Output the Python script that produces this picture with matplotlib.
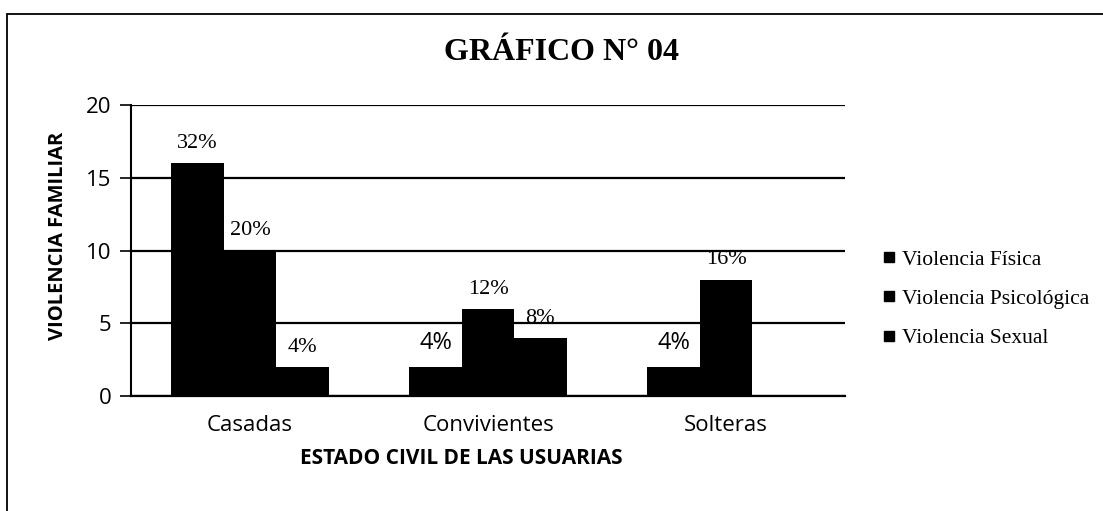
import numpy as np
import matplotlib
matplotlib.use('Agg')
import matplotlib.pyplot as plt
from matplotlib.lines import Line2D
from matplotlib.patches import Rectangle

# datos del grafico
categorias = ['Casadas', 'Convivientes', 'Solteras']
series = ['Violencia Física', 'Violencia Psicológica', 'Violencia Sexual']
fisica = [16, 2, 2]
psicologica = [10, 6, 8]
sexual = [2, 4, 0]
etiq_fisica = ['32%', '4%', '4%']
etiq_psicologica = ['20%', '12%', '16%']
etiq_sexual = ['4%', '8%', '']

valores = [fisica, psicologica, sexual]
etiquetas = [etiq_fisica, etiq_psicologica, etiq_sexual]

sans = 'Open Sans'
serif = 'Liberation Serif'

fig = plt.figure(figsize=(11.03, 5.11), dpi=100)
ax = fig.add_axes([131/1103, 1-396/511, (845-131)/1103, (396-105)/511])

x = np.arange(len(categorias))
w = 0.22
for i in range(len(series)):
    xs = x + (i-1)*w
    ax.bar(xs, valores[i], width=w, color='black', zorder=3)
    for j in range(len(categorias)):
        if etiquetas[i][j] == '':
            continue
        if i == 0 and j > 0:
            ax.text(xs[j], valores[i][j]+1.65, etiquetas[i][j], ha='center', va='center',
                    fontsize=17, family=sans)
        else:
            ax.text(xs[j], valores[i][j]+1.35, etiquetas[i][j], ha='center', va='center',
                    fontsize=16, family=serif)

ax.set_xlim(-0.5, 2.5)
ax.set_ylim(0, 20)
ax.set_yticks([0, 5, 10, 15, 20])
ax.set_xticks(x)
ax.set_xticklabels(categorias, family=sans, fontsize=16)
for t in ax.get_yticklabels():
    t.set_family(sans)
    t.set_fontsize(16)
ax.tick_params(axis='x', length=0, pad=14)
ax.tick_params(axis='y', length=8, width=1.2, direction='out', pad=6)
ax.yaxis.grid(True, color='black', linewidth=1.6, zorder=0)
ax.set_axisbelow(True)
for s in ['top', 'right']:
    ax.spines[s].set_visible(False)
ax.spines['left'].set_linewidth(1.5)
ax.spines['bottom'].set_linewidth(1.6)

ax.set_xlabel('ESTADO CIVIL DE LAS USUARIAS', family=sans, fontweight='bold', fontsize=15)
ax.xaxis.set_label_coords(0.462, -0.18)
ax.set_ylabel('VIOLENCIA FAMILIAR', family=sans, fontweight='bold', fontsize=14.5)
ax.yaxis.set_label_coords(-0.088, 0.55)

fig.text(561/1103, 1-53/511, 'GRÁFICO N° 04', ha='center', va='center',
         family=serif, fontweight='bold', fontsize=23)

handles = [Line2D([], [], marker='s', color='black', linestyle='none', markersize=7) for s in series]
fig.legend(handles, series, loc='center left', bbox_to_anchor=(874/1103, 1-299/511),
           frameon=False, prop={'family': serif, 'size': 15.5}, handlelength=0.6,
           handletextpad=0.3, labelspacing=0.89, borderaxespad=0)

# marco exterior
fig.patches.append(Rectangle((7/1103, -0.1), 1.2, 1-14/511+0.1, transform=fig.transFigure,
                             fill=False, edgecolor='black', linewidth=1.3))

fig.savefig('out.png', dpi=100)
